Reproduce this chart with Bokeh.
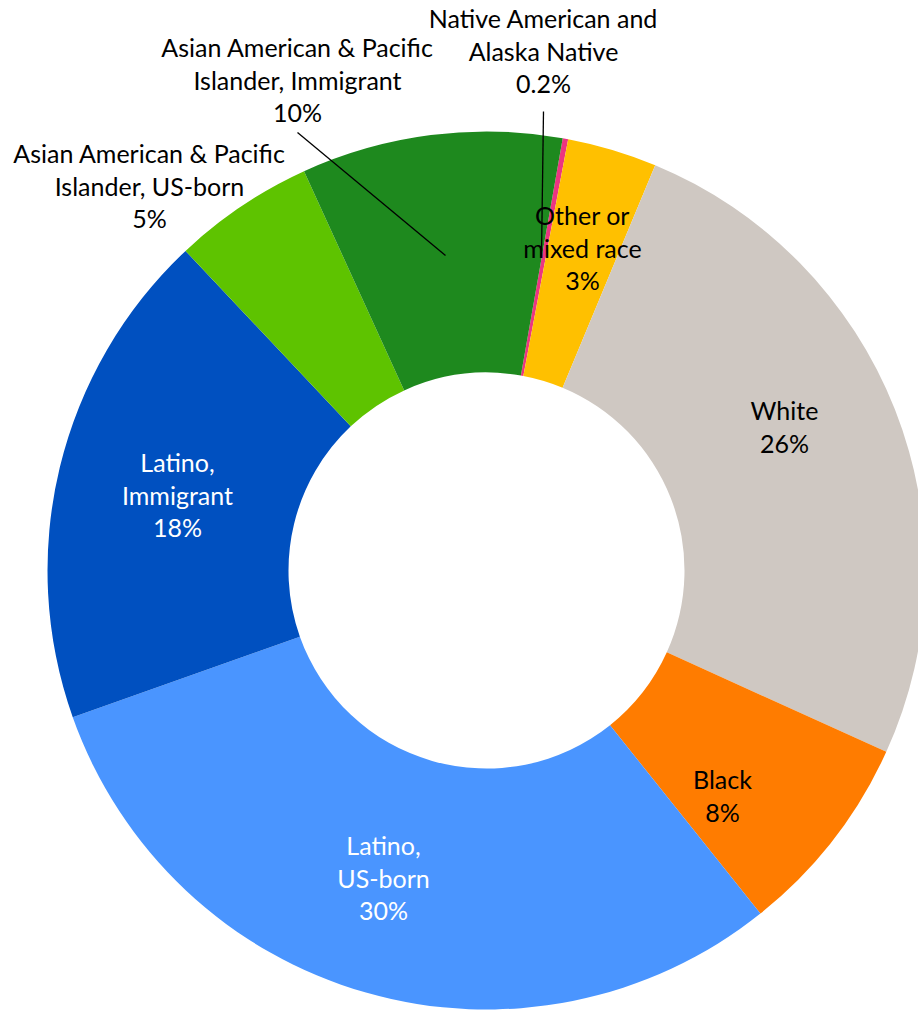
import math
from bokeh.plotting import figure
from bokeh.models import Range1d, ColumnDataSource
from bokeh.core.properties import value
from bokeh.embed import file_html
from bokeh.resources import INLINE

# ---- data (clockwise from the first slice) ----
categories = [
    "Native American and Alaska Native",
    "Other or mixed race",
    "White",
    "Black",
    "Latino, US-born",
    "Latino, Immigrant",
    "Asian American & Pacific Islander, US-born",
    "Asian American & Pacific Islander, Immigrant",
]
shares = [0.2, 3.3, 25.5, 7.5, 30.3, 18.4, 5.2, 9.6]
pct_labels = ["0.2%", "3%", "26%", "8%", "30%", "18%", "5%", "10%"]
label_lines = [
    ["Native American and", "Alaska Native"],
    ["Other or", "mixed race"],
    ["White"],
    ["Black"],
    ["Latino,", "US-born"],
    ["Latino,", "Immigrant"],
    ["Asian American & Pacific", "Islander, US-born"],
    ["Asian American & Pacific", "Islander, Immigrant"],
]
colors = ["#EC3581", "#FFC000", "#CFC8C2", "#FF7C00",
          "#4A95FF", "#0050C0", "#5EC300", "#1E891E"]
text_colors = ["black", "black", "black", "black",
               "white", "white", "black", "black"]

# ---- layout (page pixels, y measured downward) ----
W, H = 918, 1011
CX, CY = 486, 570
R_OUT, R_IN = 439, 198
START_DEG = 10.0          # first slice starts 10 deg clockwise from 12 o'clock
LINE_H = 32.5
FONT = "Lato"
FONT_SIZE = "25px"
label_centers = [(543, 50), (582, 247), (784, 426), (722, 795),
                 (383, 877), (177, 494), (149, 185), (297, 79)]
leaders = {0: ((543, 111), (541, 255)), 7: ((297, 132), (445, 255))}


def fy(ypx):
    return H - ypx


p = figure(width=W, height=H, output_backend="svg",
           toolbar_location=None, min_border=0,
           x_range=Range1d(0, W), y_range=Range1d(0, H))
p.axis.visible = False
p.grid.visible = False
p.outline_line_color = None
p.background_fill_color = "white"
p.border_fill_color = "white"

total = sum(shares)
starts, ends = [], []
acc = 0.0
for s in shares:
    a0 = math.radians(90 - START_DEG - 360 * acc / total)
    acc += s
    a1 = math.radians(90 - START_DEG - 360 * acc / total)
    starts.append(a0)
    ends.append(a1)

src = ColumnDataSource(dict(x=[CX] * len(shares), y=[fy(CY)] * len(shares),
                            start=starts, end=ends, color=colors,
                            cat=categories, share=shares))
p.annular_wedge(x="x", y="y", inner_radius=R_IN, outer_radius=R_OUT,
                start_angle="start", end_angle="end", direction="clock",
                fill_color="color", line_color=None, source=src)

for i, (a, b) in leaders.items():
    p.line([a[0], b[0]], [fy(a[1]), fy(b[1])], line_color="black", line_width=1.3)

tx, ty, tt, tc = [], [], [], []
for i, lines in enumerate(label_lines):
    all_lines = lines + [pct_labels[i]]
    n = len(all_lines)
    cx, cy = label_centers[i]
    for k, ln in enumerate(all_lines):
        tx.append(cx)
        ty.append(fy(cy + (k - (n - 1) / 2) * LINE_H))
        tt.append(ln)
        tc.append(text_colors[i])

p.text(x=tx, y=ty, text=tt, text_color=tc, text_align="center",
       text_baseline="middle", text_font=value(FONT), text_font_size=FONT_SIZE)

open("out.html", "w").write(file_html(p, INLINE))
